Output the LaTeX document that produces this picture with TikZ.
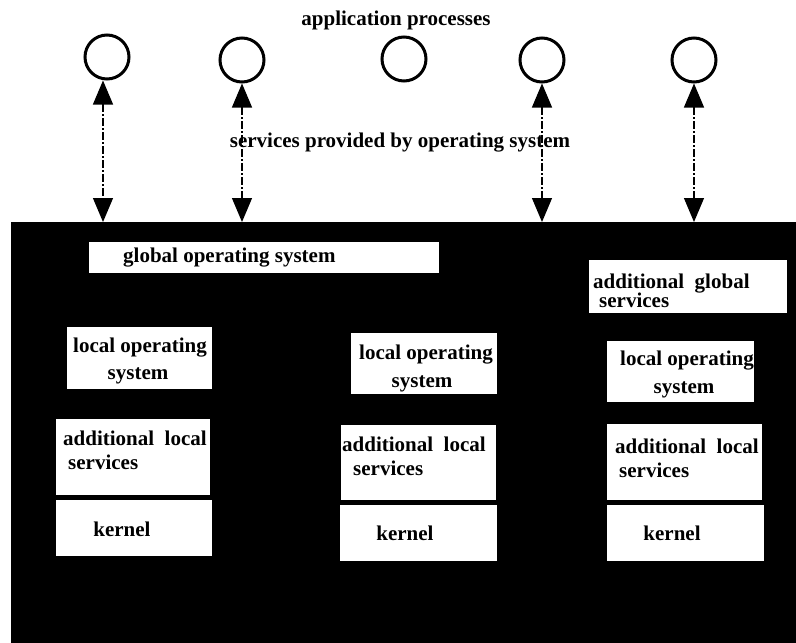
\documentclass[tikz,border=0pt]{standalone}
\usepackage{fontspec}
\setmainfont{Liberation Serif}
\usetikzlibrary{arrows.meta}
\begin{document}
\begin{tikzpicture}[x=1pt,y=-1pt,
  txt/.style={font=\fontsize{21}{25}\selectfont\bfseries, inner sep=0pt, text=black},
  wbox/.style={fill=white, draw=none, inner sep=0pt, anchor=north west},
  proc/.style={circle, draw=black, line width=3pt, minimum size=44pt, inner sep=0pt},
  link/.style={line width=1.2pt, dash pattern=on 8pt off 2pt on 2pt off 2pt,
    {Triangle[width=20pt,length=24pt]}-{Triangle[width=20pt,length=24pt]}}]
\useasboundingbox (0,0) rectangle (796,643);

% headings
\node[txt, anchor=base] (apptitle) at (396,25) {application processes};
\node[txt, anchor=base] (svctitle) at (400,147) {services provided by operating system};

% application processes
\node[proc] (c1) at (107,57) {};
\node[proc] (c2) at (242,60) {};
\node[proc] (c3) at (404,59) {};
\node[proc] (c4) at (542,60) {};
\node[proc] (c5) at (694,60) {};

% the distributed system
\node[fill=black, draw=none, inner sep=0pt, anchor=north west,
      minimum width=785pt, minimum height=421pt] (os) at (11,222) {};

% service requests
\draw[link] ([xshift=-4pt]c1.south) -- ([xshift=-4pt]c1.south |- os.north);
\draw[link] (c2.south) -- (c2.south |- os.north);
\draw[link] (c4.south) -- (c4.south |- os.north);
\draw[link] (c5.south) -- (c5.south |- os.north);

% global layer
\node[wbox, minimum width=350pt, minimum height=31pt] (gos) at (89,242) {};
\node[txt, anchor=base west] (gost) at (123,262) {global operating system};
\node[wbox, minimum width=198pt, minimum height=53pt] (ags) at (589,260) {};
\node[txt, anchor=base west] (agsa) at (593,288) {additional\hspace{0.5em}global};
\node[txt, anchor=base west] (agsb) at (599,307) {services};

% left machine
\node[wbox, minimum width=145pt, minimum height=62pt] (lo1) at (67,327) {};
\node[txt, anchor=base] (lo1a) at (140,352) {local operating};
\node[txt, anchor=base] (lo1b) at (138,379) {system};
\node[wbox, minimum width=154pt, minimum height=76pt] (al1) at (56,419) {};
\node[txt, anchor=base west] (al1a) at (63,445) {additional\hspace{0.5em}local};
\node[txt, anchor=base west] (al1b) at (68,469) {services};
\node[wbox, minimum width=156pt, minimum height=56pt] (k1) at (56,500) {};
\node[txt, anchor=base] (k1t) at (122,536) {kernel};

% middle machine
\node[wbox, minimum width=146pt, minimum height=61pt] (lo2) at (351,333) {};
\node[txt, anchor=base] (lo2a) at (426,359) {local operating};
\node[txt, anchor=base] (lo2b) at (422,387) {system};
\node[wbox, minimum width=155pt, minimum height=75pt] (al2) at (341,425) {};
\node[txt, anchor=base west] (al2a) at (342,451) {additional\hspace{0.5em}local};
\node[txt, anchor=base west] (al2b) at (353,475) {services};
\node[wbox, minimum width=157pt, minimum height=56pt] (k2) at (340,505) {};
\node[txt, anchor=base] (k2t) at (405,540) {kernel};

% right machine
\node[wbox, minimum width=147pt, minimum height=61pt] (lo3) at (607,341) {};
\node[txt, anchor=base] (lo3a) at (687,365) {local operating};
\node[txt, anchor=base] (lo3b) at (684,393) {system};
\node[wbox, minimum width=155pt, minimum height=76pt] (al3) at (607,424) {};
\node[txt, anchor=base west] (al3a) at (615,453) {additional\hspace{0.5em}local};
\node[txt, anchor=base west] (al3b) at (619,477) {services};
\node[wbox, minimum width=157pt, minimum height=56pt] (k3) at (607,505) {};
\node[txt, anchor=base] (k3t) at (672,540) {kernel};
\end{tikzpicture}
\end{document}
